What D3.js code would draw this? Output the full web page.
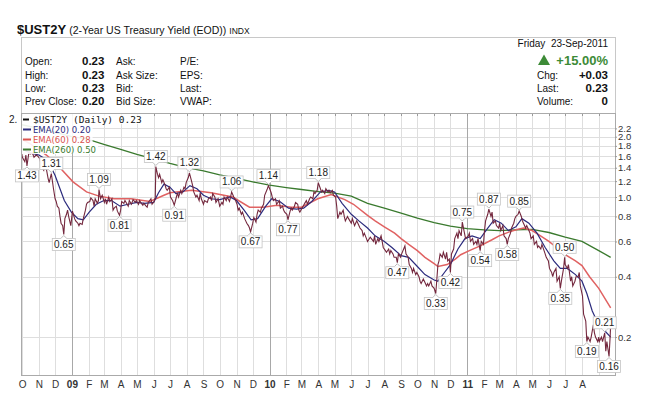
<!DOCTYPE html>
<html><head><meta charset="utf-8">
<script src="https://cdn.jsdelivr.net/npm/d3@7"></script>
<style>body{margin:0;background:#fff}svg{display:block}</style>
</head><body>
<svg id="c" width="669" height="416"></svg>
<script>
// ---------- DATA ----------
const price = [
["2008-09-29",1.72],["2008-10-01",1.60],["2008-10-03",1.55],["2008-10-06",1.50],["2008-10-08",1.62],["2008-10-10",1.43],
["2008-10-14",1.70],["2008-10-16",1.64],["2008-10-20",1.66],["2008-10-23",1.58],["2008-10-27",1.62],["2008-10-30",1.60],
["2008-11-03",1.55],["2008-11-05",1.45],["2008-11-07",1.40],["2008-11-10",1.36],["2008-11-12",1.48],["2008-11-14",1.42],
["2008-11-18",1.24],["2008-11-20",1.18],["2008-11-24",1.31],["2008-11-26",1.20],["2008-11-28",1.10],["2008-12-01",0.98],
["2008-12-03",0.95],["2008-12-05",0.90],["2008-12-08",0.88],["2008-12-10",0.80],["2008-12-12",0.74],["2008-12-15",0.72],
["2008-12-17",0.65],["2008-12-19",0.78],["2008-12-22",0.82],["2008-12-24",0.86],["2008-12-26",0.80],["2008-12-30",0.72],
["2009-01-02",0.85],["2009-01-06",0.78],["2009-01-08",0.76],["2009-01-12",0.74],["2009-01-14",0.72],["2009-01-16",0.74],
["2009-01-20",0.73],["2009-01-22",0.78],["2009-01-26",0.86],["2009-01-28",0.92],["2009-01-30",0.94],["2009-02-03",0.95],
["2009-02-05",0.99],["2009-02-09",0.96],["2009-02-11",0.90],["2009-02-13",0.98],["2009-02-17",0.93],["2009-02-19",0.96],
["2009-02-20",1.09],["2009-02-23",0.98],["2009-02-26",1.02],["2009-03-02",0.94],["2009-03-04",0.98],["2009-03-06",0.92],
["2009-03-10",1.00],["2009-03-12",0.95],["2009-03-16",0.98],["2009-03-18",0.86],["2009-03-20",0.88],["2009-03-24",0.90],
["2009-03-26",0.85],["2009-03-30",0.81],["2009-04-01",0.86],["2009-04-03",0.95],["2009-04-07",0.93],["2009-04-09",0.96],
["2009-04-13",0.92],["2009-04-15",0.90],["2009-04-17",0.96],["2009-04-21",0.92],["2009-04-24",0.97],["2009-04-28",0.94],
["2009-04-30",0.96],["2009-05-04",0.92],["2009-05-06",0.96],["2009-05-08",0.94],["2009-05-12",0.91],["2009-05-14",0.93],
["2009-05-18",0.90],["2009-05-20",0.89],["2009-05-22",0.94],["2009-05-27",0.98],["2009-05-29",0.92],["2009-06-02",0.95],
["2009-06-04",1.00],["2009-06-05",1.42],["2009-06-08",1.30],["2009-06-10",1.25],["2009-06-12",1.30],["2009-06-16",1.18],
["2009-06-18",1.22],["2009-06-22",1.15],["2009-06-24",1.10],["2009-06-26",1.08],["2009-06-30",1.12],["2009-07-02",1.00],
["2009-07-06",0.96],["2009-07-09",0.91],["2009-07-13",1.00],["2009-07-15",1.05],["2009-07-17",1.00],["2009-07-21",1.08],
["2009-07-23",1.04],["2009-07-27",1.12],["2009-07-29",1.10],["2009-07-31",1.18],["2009-08-04",1.25],["2009-08-06",1.32],
["2009-08-10",1.20],["2009-08-12",1.14],["2009-08-14",1.06],["2009-08-18",1.00],["2009-08-20",1.02],["2009-08-24",0.96],
["2009-08-26",1.05],["2009-08-28",0.98],["2009-09-01",0.92],["2009-09-03",0.96],["2009-09-08",0.94],["2009-09-10",0.98],
["2009-09-14",1.00],["2009-09-16",0.96],["2009-09-18",1.04],["2009-09-22",1.00],["2009-09-24",0.94],["2009-09-28",0.98],
["2009-10-01",0.90],["2009-10-05",0.94],["2009-10-07",0.92],["2009-10-09",1.00],["2009-10-13",0.96],["2009-10-15",1.00],
["2009-10-19",0.95],["2009-10-21",1.00],["2009-10-23",1.06],["2009-10-27",1.00],["2009-10-29",0.98],["2009-11-02",0.92],
["2009-11-04",0.86],["2009-11-06",0.88],["2009-11-10",0.82],["2009-11-12",0.84],["2009-11-16",0.78],["2009-11-18",0.76],
["2009-11-20",0.74],["2009-11-23",0.72],["2009-11-25",0.70],["2009-11-27",0.67],["2009-12-01",0.74],["2009-12-03",0.79],
["2009-12-07",0.75],["2009-12-09",0.82],["2009-12-11",0.86],["2009-12-15",0.84],["2009-12-17",0.88],["2009-12-21",0.92],
["2009-12-23",1.02],["2009-12-28",1.10],["2009-12-30",1.14],["2010-01-04",1.05],["2010-01-06",1.00],["2010-01-08",0.96],
["2010-01-12",0.98],["2010-01-14",0.92],["2010-01-19",0.96],["2010-01-21",0.88],["2010-01-25",0.90],["2010-01-27",0.86],
["2010-01-29",0.84],["2010-02-02",0.82],["2010-02-04",0.77],["2010-02-08",0.85],["2010-02-10",0.88],["2010-02-12",0.86],
["2010-02-16",0.90],["2010-02-18",0.94],["2010-02-22",0.92],["2010-02-24",0.86],["2010-02-26",0.84],["2010-03-02",0.88],
["2010-03-04",0.90],["2010-03-08",0.94],["2010-03-10",0.96],["2010-03-12",0.92],["2010-03-16",0.98],["2010-03-18",1.00],
["2010-03-22",0.98],["2010-03-24",1.06],["2010-03-26",1.04],["2010-03-30",1.08],["2010-04-01",1.18],["2010-04-05",1.10],
["2010-04-07",1.06],["2010-04-09",1.08],["2010-04-13",1.04],["2010-04-15",1.10],["2010-04-19",1.06],["2010-04-21",1.08],
["2010-04-23",1.05],["2010-04-27",1.08],["2010-04-29",1.02],["2010-05-03",1.00],["2010-05-05",0.90],["2010-05-07",0.78],
["2010-05-11",0.84],["2010-05-13",0.82],["2010-05-17",0.86],["2010-05-19",0.80],["2010-05-21",0.76],["2010-05-25",0.80],
["2010-05-27",0.78],["2010-06-01",0.74],["2010-06-03",0.78],["2010-06-07",0.72],["2010-06-09",0.74],["2010-06-11",0.76],
["2010-06-15",0.72],["2010-06-17",0.70],["2010-06-21",0.68],["2010-06-23",0.64],["2010-06-25",0.66],["2010-06-29",0.62],
["2010-07-01",0.60],["2010-07-06",0.63],["2010-07-08",0.62],["2010-07-12",0.60],["2010-07-14",0.64],["2010-07-16",0.58],
["2010-07-20",0.62],["2010-07-22",0.60],["2010-07-26",0.64],["2010-07-28",0.60],["2010-07-30",0.56],["2010-08-03",0.54],
["2010-08-05",0.53],["2010-08-09",0.55],["2010-08-11",0.52],["2010-08-13",0.54],["2010-08-17",0.52],["2010-08-19",0.50],
["2010-08-23",0.50],["2010-08-25",0.47],["2010-08-27",0.52],["2010-08-31",0.50],["2010-09-02",0.52],["2010-09-08",0.57],
["2010-09-10",0.52],["2010-09-14",0.50],["2010-09-16",0.46],["2010-09-20",0.44],["2010-09-22",0.42],["2010-09-24",0.44],
["2010-09-28",0.41],["2010-09-30",0.42],["2010-10-04",0.40],["2010-10-06",0.38],["2010-10-08",0.37],["2010-10-12",0.39],
["2010-10-14",0.38],["2010-10-18",0.36],["2010-10-20",0.37],["2010-10-22",0.36],["2010-10-26",0.38],["2010-10-28",0.36],
["2010-11-01",0.35],["2010-11-04",0.33],["2010-11-08",0.46],["2010-11-10",0.48],["2010-11-12",0.52],["2010-11-16",0.50],
["2010-11-18",0.53],["2010-11-22",0.49],["2010-11-24",0.53],["2010-11-26",0.48],["2010-11-29",0.49],["2010-12-01",0.42],
["2010-12-03",0.52],["2010-12-07",0.55],["2010-12-09",0.62],["2010-12-13",0.66],["2010-12-15",0.62],["2010-12-17",0.68],
["2010-12-21",0.64],["2010-12-23",0.75],["2010-12-27",0.66],["2010-12-29",0.62],["2011-01-03",0.64],["2011-01-05",0.66],
["2011-01-07",0.60],["2011-01-11",0.62],["2011-01-13",0.58],["2011-01-17",0.60],["2011-01-19",0.58],["2011-01-21",0.62],
["2011-01-25",0.54],["2011-01-27",0.60],["2011-01-31",0.58],["2011-02-02",0.68],["2011-02-04",0.76],["2011-02-08",0.82],
["2011-02-10",0.87],["2011-02-14",0.80],["2011-02-16",0.84],["2011-02-18",0.74],["2011-02-22",0.76],["2011-02-24",0.72],
["2011-02-28",0.70],["2011-03-02",0.74],["2011-03-04",0.68],["2011-03-08",0.72],["2011-03-10",0.64],["2011-03-14",0.62],
["2011-03-16",0.58],["2011-03-18",0.62],["2011-03-22",0.66],["2011-03-24",0.70],["2011-03-28",0.74],["2011-03-30",0.78],
["2011-04-01",0.80],["2011-04-05",0.82],["2011-04-07",0.85],["2011-04-11",0.80],["2011-04-13",0.76],["2011-04-15",0.74],
["2011-04-19",0.70],["2011-04-21",0.72],["2011-04-25",0.68],["2011-04-27",0.66],["2011-04-29",0.62],["2011-05-03",0.64],
["2011-05-05",0.58],["2011-05-09",0.60],["2011-05-11",0.56],["2011-05-13",0.57],["2011-05-17",0.55],["2011-05-19",0.58],
["2011-05-23",0.54],["2011-05-25",0.52],["2011-05-27",0.50],["2011-05-31",0.48],["2011-06-02",0.44],["2011-06-06",0.42],
["2011-06-08",0.40],["2011-06-10",0.42],["2011-06-14",0.44],["2011-06-16",0.38],["2011-06-20",0.40],["2011-06-22",0.35],
["2011-06-24",0.38],["2011-06-28",0.44],["2011-06-30",0.50],["2011-07-01",0.46],["2011-07-05",0.44],["2011-07-07",0.46],
["2011-07-11",0.38],["2011-07-13",0.40],["2011-07-15",0.36],["2011-07-19",0.38],["2011-07-21",0.40],["2011-07-25",0.40],
["2011-07-27",0.42],["2011-07-29",0.36],["2011-08-02",0.32],["2011-08-04",0.26],["2011-08-08",0.24],["2011-08-10",0.19],
["2011-08-12",0.20],["2011-08-16",0.19],["2011-08-18",0.20],["2011-08-22",0.23],["2011-08-24",0.21],["2011-08-26",0.20],
["2011-08-30",0.19],["2011-09-01",0.20],["2011-09-02",0.19],["2011-09-06",0.20],["2011-09-08",0.19],["2011-09-12",0.21],
["2011-09-14",0.17],["2011-09-16",0.19],["2011-09-20",0.16],["2011-09-22",0.20],["2011-09-23",0.23]
];

const ema20 = [
["2008-09-29",1.75],["2008-10-15",1.66],["2008-11-01",1.62],["2008-11-13",1.55],["2008-11-24",1.40],["2008-12-01",1.28],
["2008-12-10",1.10],["2008-12-18",0.96],["2008-12-31",0.84],["2009-01-12",0.78],["2009-01-22",0.77],["2009-02-02",0.84],
["2009-02-15",0.92],["2009-03-01",0.96],["2009-03-15",0.96],["2009-03-31",0.90],["2009-04-15",0.92],["2009-05-01",0.94],
["2009-05-15",0.93],["2009-06-01",0.94],["2009-06-10",1.05],["2009-06-20",1.16],["2009-07-01",1.12],["2009-07-12",1.04],
["2009-07-25",1.06],["2009-08-07",1.14],["2009-08-20",1.10],["2009-09-01",1.02],["2009-09-15",0.98],["2009-10-01",0.97],
["2009-10-20",1.00],["2009-11-01",0.96],["2009-11-15",0.86],["2009-11-28",0.77],["2009-12-10",0.78],["2009-12-25",0.90],
["2010-01-05",0.98],["2010-01-20",0.95],["2010-02-05",0.88],["2010-02-20",0.87],["2010-03-05",0.88],["2010-03-20",0.95],
["2010-04-05",1.06],["2010-04-20",1.08],["2010-05-01",1.06],["2010-05-15",0.93],["2010-06-01",0.82],["2010-06-15",0.76],
["2010-07-01",0.70],["2010-07-15",0.64],["2010-08-01",0.60],["2010-08-15",0.56],["2010-09-01",0.51],["2010-09-15",0.50],
["2010-10-01",0.45],["2010-10-15",0.41],["2010-11-01",0.385],["2010-11-08",0.38],["2010-11-20",0.42],["2010-12-01",0.46],
["2010-12-15",0.55],["2010-12-28",0.62],["2011-01-10",0.64],["2011-01-25",0.62],["2011-02-08",0.70],["2011-02-20",0.77],
["2011-03-05",0.74],["2011-03-18",0.68],["2011-04-01",0.71],["2011-04-12",0.78],["2011-04-25",0.74],["2011-05-10",0.66],
["2011-05-25",0.56],["2011-06-10",0.48],["2011-06-22",0.44],["2011-07-05",0.44],["2011-07-20",0.41],["2011-08-01",0.38],
["2011-08-10",0.33],["2011-08-20",0.27],["2011-09-01",0.23],["2011-09-12",0.215],["2011-09-23",0.20]
];

const ema60 = [
["2008-09-29",1.95],["2008-10-15",1.85],["2008-11-01",1.72],["2008-11-15",1.62],["2008-12-01",1.48],["2008-12-10",1.40],
["2009-01-03",1.19],["2009-01-28",1.06],["2009-02-20",1.01],["2009-03-20",0.98],["2009-04-20",0.98],["2009-05-25",0.95],
["2009-06-20",1.02],["2009-07-01",1.05],["2009-08-10",1.08],["2009-09-15",1.05],["2009-10-25",1.00],["2009-11-25",0.89],
["2009-12-20",0.89],["2010-01-15",0.91],["2010-02-10",0.89],["2010-03-01",0.89],["2010-03-31",0.98],["2010-04-25",1.03],
["2010-05-20",0.97],["2010-06-05",0.92],["2010-07-01",0.81],["2010-07-15",0.76],["2010-08-01",0.71],["2010-08-20",0.66],
["2010-09-01",0.62],["2010-09-15",0.58],["2010-10-01",0.54],["2010-10-15",0.50],["2010-11-01",0.465],["2010-11-08",0.45],
["2010-11-25",0.46],["2010-12-10",0.49],["2010-12-20",0.515],["2011-01-05",0.54],["2011-01-25",0.57],["2011-02-15",0.61],
["2011-03-01",0.64],["2011-03-20",0.67],["2011-04-05",0.69],["2011-04-15",0.70],["2011-05-01",0.68],["2011-05-20",0.63],
["2011-06-01",0.60],["2011-06-15",0.56],["2011-07-01",0.515],["2011-07-20",0.48],["2011-08-01",0.455],["2011-08-15",0.40],
["2011-09-01",0.35],["2011-09-23",0.28]
];

const ema260 = [
["2008-09-29",2.30],["2008-11-01",2.20],["2008-12-01",2.10],["2009-01-01",2.00],["2009-01-28",1.95],["2009-03-01",1.83],
["2009-04-01",1.73],["2009-05-01",1.63],["2009-06-01",1.55],["2009-07-01",1.47],["2009-08-01",1.40],["2009-09-01",1.35],
["2009-10-01",1.29],["2009-11-01",1.24],["2009-12-01",1.19],["2010-01-01",1.145],["2010-02-01",1.115],["2010-03-01",1.09],
["2010-04-01",1.065],["2010-05-01",1.045],["2010-06-01",1.01],["2010-07-01",0.93],["2010-08-01",0.88],["2010-09-01",0.83],
["2010-10-01",0.785],["2010-11-01",0.745],["2010-12-01",0.715],["2011-01-01",0.695],["2011-02-01",0.685],["2011-03-01",0.68],
["2011-04-01",0.685],["2011-05-01",0.69],["2011-06-01",0.665],["2011-07-01",0.63],["2011-08-01",0.60],["2011-09-01",0.54],
["2011-09-23",0.50]
];

// swing labels: date, value, side
const swingDates  = ["2008-10-10","2008-11-24","2008-12-17","2009-02-20","2009-03-30","2009-06-05","2009-07-09","2009-08-06",
  "2009-10-23","2009-11-27","2009-12-30","2010-02-04","2010-04-01","2010-08-25","2010-11-04","2010-12-01","2010-12-23",
  "2011-01-25","2011-02-10","2011-03-16","2011-04-07","2011-06-30","2011-06-22","2011-09-12","2011-08-10","2011-09-20"];
const swingValues = [1.43,1.31,0.65,1.09,0.81,1.42,0.91,1.32,1.06,0.67,1.14,0.77,1.18,0.47,0.33,0.42,0.75,
  0.54,0.87,0.58,0.85,0.50,0.35,0.21,0.19,0.16];
const swingSides  = ["below","above","below","above","below","above","below","above","above","below","above","below","above",
  "below","below","below","above","below","above","below","above","above","below","above","below","below"];

const yTicks = [2.2,2.0,1.8,1.6,1.4,1.2,1.0,0.8,0.6,0.4,0.2];
const monthTickLabels = ["O","N","D","09","F","M","A","M","J","J","A","S","O","N","D","10","F","M","A","M","J","J","A","S",
  "O","N","D","11","F","M","A","M","J","J","A"];

const legendItems = [
  {text:"$UST2Y (Daily) 0.23", color:"#111"},
  {text:"EMA(20) 0.20", color:"#2b2b7d"},
  {text:"EMA(60) 0.28", color:"#d9534f"},
  {text:"EMA(260) 0.50", color:"#3a7a2e"}
];

const quoteLeft = [["Open:","0.23","Ask:","P/E:"],["High:","0.23","Ask Size:","EPS:"],["Low:","0.23","Bid:","Last:"],
  ["Prev Close:","0.20","Bid Size:","VWAP:"]];
const quoteRight = [["Chg:","+0.03"],["Last:","0.23"],["Volume:","0"]];

// ---------- DRAW ----------
const parse = d3.timeParse("%Y-%m-%d");
const svg = d3.select("#c");
const P = {l:21, r:615, t:113, b:375};
const x = d3.scaleTime().domain([new Date(2008,8,29), new Date(2011,9,1)]).range([P.l,P.r]);
const y = d3.scaleLog().domain([0.1293, 2.626]).range([P.b,P.t]);
const F = "'Liberation Sans', Arial, sans-serif";

svg.append("rect").attr("width",669).attr("height",416).attr("fill","#fff");

// header
const title = svg.append("text").attr("x",17).attr("y",34).attr("font-family",F).attr("fill","#111");
title.append("tspan").attr("font-size","13px").attr("font-weight","bold").text("$UST2Y");
title.append("tspan").attr("font-size","10.5px").attr("dx",3).text("(2-Year US Treasury Yield (EOD))");
title.append("tspan").attr("font-size","8.5px").attr("dx",3).text("INDX");

svg.append("rect").attr("x",P.l+0.5).attr("y",37.5).attr("width",P.r-P.l).attr("height",P.t-37)
  .attr("fill","none").attr("stroke","#c8c8c8");

const rowY = [64.5,78.5,91.5,104.5];
const colX = [25,82,116,180];
quoteLeft.forEach((row,i)=>{
  row.forEach((t,j)=>{
    svg.append("text").attr("x",colX[j]).attr("y",rowY[i]).attr("font-family",F)
      .attr("font-size", j===1?"11.5px":"10px").attr("font-weight", j===1?"bold":"normal")
      .attr("fill","#111").text(t);
  });
});
svg.append("text").attr("x",608).attr("y",46.5).attr("text-anchor","end").attr("font-family",F)
  .attr("font-size","10px").attr("fill","#111").attr("xml:space","preserve").text("Friday  23-Sep-2011");
svg.append("path").attr("d","M538,65 L544,54.5 L550,65 Z").attr("fill","#3d8b37");
svg.append("text").attr("x",608).attr("y",65).attr("text-anchor","end").attr("font-family",F)
  .attr("font-size","13px").attr("font-weight","bold").attr("fill","#3d8b37").text("+15.00%");
quoteRight.forEach((r,i)=>{
  svg.append("text").attr("x",537).attr("y",rowY[i+1]).attr("font-family",F).attr("font-size","10px").attr("fill","#111").text(r[0]);
  svg.append("text").attr("x",608).attr("y",rowY[i+1]).attr("text-anchor","end").attr("font-family",F)
    .attr("font-size","11.5px").attr("font-weight","bold").attr("fill","#111").text(r[1]);
});

// grid
const months = d3.timeMonth.range(new Date(2008,9,1), new Date(2011,9,1));
const g = svg.append("g");
g.selectAll("line.h").data(yTicks).join("line")
  .attr("x1",P.l).attr("x2",P.r).attr("y1",d=>Math.round(y(d))+0.5).attr("y2",d=>Math.round(y(d))+0.5)
  .attr("stroke","#dedede");
g.selectAll("line.v").data(months).join("line")
  .attr("x1",d=>Math.round(x(d))+0.5).attr("x2",d=>Math.round(x(d))+0.5).attr("y1",P.t).attr("y2",P.b)
  .attr("stroke",d=>d.getMonth()===0?"#a8a8a8":"#dedede");
g.selectAll("line.tt").data(months).join("line")
  .attr("x1",d=>Math.round(x(d))+0.5).attr("x2",d=>Math.round(x(d))+0.5).attr("y1",P.t).attr("y2",P.t+3)
  .attr("stroke","#999");

// frame
svg.append("rect").attr("x",P.l+0.5).attr("y",P.t+0.5).attr("width",P.r-P.l).attr("height",P.b-P.t)
  .attr("fill","none").attr("stroke","#aaa");

// axes
const yAxis = svg.append("g").attr("transform",`translate(${P.r},0)`)
  .call(d3.axisRight(y).tickValues(yTicks).tickFormat(d3.format(".1f")).tickSize(2).tickPadding(1));
yAxis.select(".domain").remove();
yAxis.selectAll("line").attr("stroke","#999");
yAxis.selectAll("text").attr("font-family",F).attr("font-size","9.5px").attr("fill","#333");

const xAxis = svg.append("g").attr("transform",`translate(0,${P.b})`)
  .call(d3.axisBottom(x).tickValues(months.slice(0,monthTickLabels.length)).tickFormat((d,i)=>monthTickLabels[i]).tickSize(0).tickPadding(6));
xAxis.select(".domain").remove();
xAxis.selectAll("text").attr("font-family",F).attr("font-size","10px").attr("fill","#333")
  .attr("font-weight",(d,i)=>/\d/.test(monthTickLabels[i])?"bold":"normal");

// lines
const line = d3.line().x(d=>x(parse(d[0]))).y(d=>y(d[1]));
svg.append("clipPath").attr("id","pc").append("rect")
  .attr("x",P.l+1).attr("y",P.t+1).attr("width",P.r-P.l-1).attr("height",P.b-P.t-1);
const lg = svg.append("g").attr("clip-path","url(#pc)");
lg.append("path").datum(ema260).attr("d",line).attr("fill","none").attr("stroke","#3a7a2e").attr("stroke-width",1.3);
lg.append("path").datum(ema60).attr("d",line).attr("fill","none").attr("stroke","#e06262").attr("stroke-width",1.5);
lg.append("path").datum(ema20).attr("d",line).attr("fill","none").attr("stroke","#2b2b7d").attr("stroke-width",1.2);
lg.append("path").datum(price).attr("d",line).attr("fill","none").attr("stroke","#74283e").attr("stroke-width",1.1);

// swing labels
const sl = svg.append("g");
swingDates.forEach((ds,i)=>{
  const px = x(parse(ds)), py = y(swingValues[i]);
  const w = 23, h = 12;
  const above = swingSides[i]==="above";
  const by = above ? py-4-h : py+4;
  const edge = above ? by+h : by;
  const tip = above ? py-1 : py+1;
  sl.append("path").attr("d",`M${px-3},${edge} L${px},${tip} L${px+3},${edge}`)
    .attr("fill","#fff").attr("stroke","#bbb");
  sl.append("rect").attr("x",px-w/2).attr("y",by).attr("width",w).attr("height",h)
    .attr("fill","#fff").attr("stroke","#c4c4c4").attr("stroke-width",0.8);
  sl.append("line").attr("x1",px-2.5).attr("x2",px+2.5).attr("y1",edge).attr("y2",edge).attr("stroke","#fff").attr("stroke-width",1.2);
  sl.append("text").attr("x",px).attr("y",by+9.5).attr("text-anchor","middle").attr("font-family",F)
    .attr("font-size","10px").attr("fill","#222").text(swingValues[i].toFixed(2));
});

// legend
svg.append("text").attr("x",9).attr("y",123).attr("font-family",F).attr("font-size","10px").attr("fill","#222").text("2.");
const legY = [119,129,139,149];
legendItems.forEach((it,i)=>{
  const t = svg.append("text").attr("x",33).attr("y",legY[i]+ (i===0?4:3.5))
    .attr("font-family", i===0?"'DejaVu Sans Mono', monospace":"'DejaVu Sans', sans-serif")
    .attr("font-size", i===0?"9.5px":"8.5px").attr("fill", it.color).text(it.text);
  const bb = t.node().getBBox();
  svg.insert("rect", () => t.node()).attr("x",22).attr("y",legY[i]-5).attr("width",bb.x+bb.width-22+2).attr("height",10)
    .attr("fill","#fff").attr("opacity",0.9);
  svg.append("line").attr("x1",23).attr("x2",i===0?29:31).attr("y1",legY[i]+0.5).attr("y2",legY[i]+0.5)
    .attr("stroke",it.color).attr("stroke-width",2);
});
</script>
</body></html>
